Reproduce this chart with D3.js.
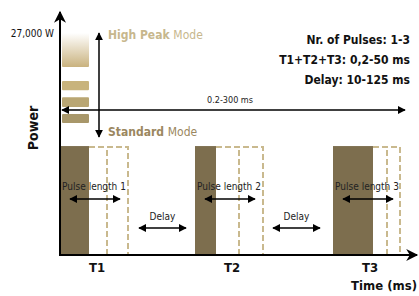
<!DOCTYPE html>
<html><head><meta charset="utf-8">
<script src="https://cdn.jsdelivr.net/npm/d3@7"></script>
<style>
html,body{margin:0;padding:0;background:#fff;}
text{font-family:"DejaVu Sans Condensed","DejaVu Sans",sans-serif;}
</style></head>
<body><svg id="c" width="419" height="296"></svg>
<script>
// ---- data ----
const pulseLabels = ["T1","T2","T3"];
const pulseStart  = [0, 135, 273];      // time units
const pulseDark   = [29, 21, 40];       // actual pulse length
const pulseMid    = [47, 44, 54];       // dashed intermediate
const pulseMax    = [68, 68, 67];       // dashed max length
const pulsePower  = 13250;              // W
const peakTop = 27000, peakGradBottom = 22850;
const peakBarsTop = [21150, 19200, 17150];
const peakBarsBottom = [20050, 18000, 16050];
const peakBarColors = ["#c8b37c","#b9a673","#a8976a"];
const delays = [[79,126],[213,260]];
const infoLines = ["Nr. of Pulses: 1-3","T1+T2+T3: 0,2-50 ms","Delay: 10-125 ms"];
const yTickLabel = "27,000 W";

const svg = d3.select("#c");
const x = d3.scaleLinear().domain([0,355]).range([60,415]);
const y = d3.scaleLinear().domain([0,27000]).range([255,33]);

const defs = svg.append("defs");
const g = defs.append("linearGradient").attr("id","grad").attr("x1",0).attr("y1",0).attr("x2",0).attr("y2",1);
g.append("stop").attr("offset","0%").attr("stop-color","#ffffff");
g.append("stop").attr("offset","100%").attr("stop-color","#c9b27e");
function marker(id, orient){
  defs.append("marker").attr("id",id).attr("viewBox","0 0 10 10").attr("refX",9).attr("refY",5)
    .attr("markerWidth",8).attr("markerHeight",8).attr("markerUnits","userSpaceOnUse").attr("orient",orient)
    .append("path").attr("d","M0,0L10,5L0,10z").attr("fill","#000");
}
marker("ah","auto-start-reverse");
defs.append("marker").attr("id","big").attr("viewBox","0 0 10 10").attr("refX",9).attr("refY",5)
  .attr("markerWidth",14).attr("markerHeight",12).attr("markerUnits","userSpaceOnUse").attr("orient","auto")
  .append("path").attr("d","M0,0L10,5L0,10L3,5z").attr("fill","#000");

// High-peak bars
svg.append("rect").attr("x",x(2)).attr("width",x(29)-x(2))
  .attr("y",y(peakTop)).attr("height",y(peakGradBottom)-y(peakTop)).attr("fill","url(#grad)").attr("rx",1);
svg.selectAll(".pb").data(peakBarsTop).join("rect")
  .attr("x",x(2)).attr("width",x(29)-x(2))
  .attr("y",d=>y(d)).attr("height",(d,i)=>y(peakBarsBottom[i])-y(d))
  .attr("fill",(d,i)=>peakBarColors[i]).attr("rx",1);

// pulses
pulseStart.forEach((s,i)=>{
  svg.append("rect").attr("x",x(s)).attr("y",y(pulsePower)).attr("width",x(s+pulseDark[i])-x(s))
    .attr("height",y(0)-y(pulsePower)).attr("fill","#7d6e4e");
  const dash = "6,3";
  const xa = x(s+pulseDark[i]), xm = x(s+pulseMid[i]), xe = x(s+pulseMax[i]);
  svg.append("path").attr("d",`M${xa},${y(pulsePower)+1}H${xe}V${y(0)}`)
    .attr("fill","none").attr("stroke","#c9b98e").attr("stroke-width",2).attr("stroke-dasharray",dash);
  svg.append("line").attr("x1",xm).attr("x2",xm).attr("y1",y(pulsePower)+4).attr("y2",y(0))
    .attr("stroke","#c9b98e").attr("stroke-width",2).attr("stroke-dasharray",dash);
  // pulse length arrow
  const ay = 199;
  svg.append("line").attr("x1",x(s+10)).attr("x2",x(s+60)).attr("y1",ay).attr("y2",ay)
    .attr("stroke","#000").attr("stroke-width",1.5)
    .attr("marker-start","url(#ah)").attr("marker-end","url(#ah)");
  svg.append("text").attr("x",x(s+34)).attr("y",190).attr("text-anchor","middle")
    .attr("font-size",10).attr("fill","#222").text("Pulse length "+(i+1));
  svg.append("text").attr("x",x(s+37)).attr("y",272).attr("text-anchor","middle")
    .attr("font-size",13).attr("font-weight","bold").attr("font-family","Liberation Sans, Arial, sans-serif")
    .attr("fill","#111").text(pulseLabels[i]);
});

// delays
delays.forEach(d=>{
  svg.append("line").attr("x1",x(d[0])).attr("x2",x(d[1])).attr("y1",228).attr("y2",228)
    .attr("stroke","#000").attr("stroke-width",1.5)
    .attr("marker-start","url(#ah)").attr("marker-end","url(#ah)");
  svg.append("text").attr("x",x((d[0]+d[1])/2)).attr("y",220).attr("text-anchor","middle")
    .attr("font-size",10).attr("fill","#222").text("Delay");
});

// axes
svg.append("line").attr("x1",x(0)).attr("x2",x(0)).attr("y1",y(0)+1).attr("y2",12)
  .attr("stroke","#000").attr("stroke-width",2).attr("marker-end","url(#big)");
svg.append("line").attr("x1",x(0)-1).attr("x2",417).attr("y1",y(0)).attr("y2",y(0))
  .attr("stroke","#000").attr("stroke-width",2).attr("marker-end","url(#big)");

// 0.2-300 ms arrow
svg.append("line").attr("x1",x(2)).attr("x2",405).attr("y1",110).attr("y2",110)
  .attr("stroke","#000").attr("stroke-width",1.5)
  .attr("marker-start","url(#ah)").attr("marker-end","url(#ah)");
svg.append("text").attr("x",230).attr("y",103).attr("text-anchor","middle")
  .attr("font-size",9).attr("fill","#222").text("0.2-300 ms");

// mode arrow
svg.append("line").attr("x1",99).attr("x2",99).attr("y1",33).attr("y2",137)
  .attr("stroke","#000").attr("stroke-width",1.5)
  .attr("marker-start","url(#ah)").attr("marker-end","url(#ah)");
svg.append("text").attr("x",108).attr("y",39).attr("font-size",12).attr("fill","#c7b78d")
  .call(t=>{t.append("tspan").attr("font-weight","bold").text("High Peak ");t.append("tspan").text("Mode");});
svg.append("text").attr("x",108).attr("y",136).attr("font-size",12).attr("fill","#9b8760")
  .call(t=>{t.append("tspan").attr("font-weight","bold").text("Standard ");t.append("tspan").text("Mode");});

// y tick label
svg.append("text").attr("x",54).attr("y",y(peakTop)+4).attr("text-anchor","end")
  .attr("font-size",10).attr("fill","#111").text(yTickLabel);

// info lines
svg.selectAll(".info").data(infoLines).join("text")
  .attr("x",410).attr("y",(d,i)=>44+i*20).attr("text-anchor","end")
  .attr("font-size",12).attr("font-weight","bold").attr("fill","#111").text(d=>d);

// axis titles
svg.append("text").attr("transform","translate(38,128) rotate(-90)").attr("text-anchor","middle")
  .attr("font-size",14).attr("font-weight","bold").attr("font-family","Liberation Sans, Arial, sans-serif")
  .attr("fill","#111").text("Power");
svg.append("text").attr("x",417).attr("y",290).attr("text-anchor","end")
  .attr("font-size",13).attr("font-weight","bold").attr("fill","#111").text("Time (ms)");
</script></body></html>
